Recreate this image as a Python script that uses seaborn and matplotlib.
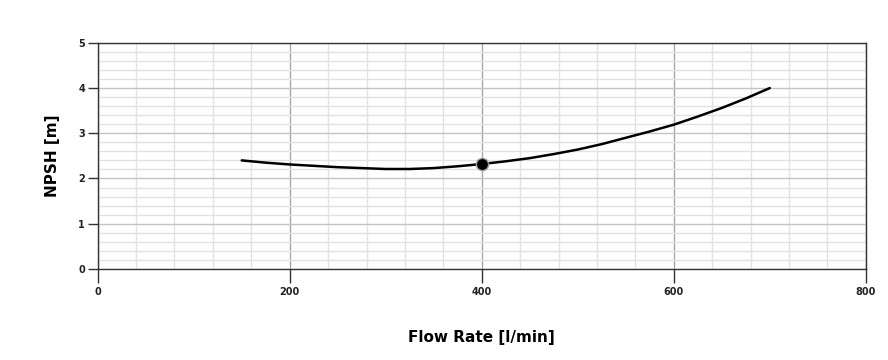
"""
NPSH curve of the pump vs. flow rate
"""

import matplotlib
matplotlib.use('Agg')
import matplotlib.pyplot as plt
from matplotlib.ticker import MultipleLocator
import pandas as pd
import seaborn as sns

# curve
flow_rate = [150, 175, 200, 225, 250, 275, 300, 325, 350, 375, 400, 425,
             450, 475, 500, 525, 550, 575, 600, 625, 650, 675, 700]
npsh = [2.40, 2.35, 2.31, 2.28, 2.25, 2.23, 2.21, 2.21, 2.23, 2.27, 2.32, 2.38,
        2.45, 2.54, 2.64, 2.76, 2.90, 3.04, 3.19, 3.37, 3.56, 3.77, 4.00]

# operating point
op_flow = [400]
op_npsh = [2.32]

curve = pd.DataFrame({'Flow Rate': flow_rate, 'NPSH': npsh})
point = pd.DataFrame({'Flow Rate': op_flow, 'NPSH': op_npsh})

sns.set_style('white')
plt.rcParams['font.family'] = ['DejaVu Sans']

fig, ax = plt.subplots(figsize=(8.88, 3.6), dpi=100)
fig.subplots_adjust(left=0.110, right=0.975, bottom=0.253, top=0.881)

# grid: light minor lines, darker majors
ax.xaxis.set_major_locator(MultipleLocator(200))
ax.xaxis.set_minor_locator(MultipleLocator(40))
ax.yaxis.set_major_locator(MultipleLocator(1))
ax.yaxis.set_minor_locator(MultipleLocator(0.2))
ax.grid(which='minor', color='#e2e2e2', linewidth=1.0)
ax.grid(which='major', axis='x', color='#a8a8a8', linewidth=1.0)
ax.grid(which='major', axis='y', color='#c4c4c4', linewidth=1.0)
ax.set_axisbelow(True)

sns.lineplot(data=curve, x='Flow Rate', y='NPSH', ax=ax,
             color='black', linewidth=1.8, sort=True)
# shadow under the point
sns.scatterplot(data=point, x='Flow Rate', y='NPSH', ax=ax,
                color='#9a9a9a', s=95, linewidth=0, zorder=3)
sns.scatterplot(data=point, x='Flow Rate', y='NPSH', ax=ax,
                color='black', s=60, linewidth=0, zorder=4)

ax.set_xlim(0, 800)
ax.set_ylim(0, 5)

for side in ['left', 'bottom', 'top', 'right']:
    ax.spines[side].set_visible(True)
    ax.spines[side].set_color('#333333')
    ax.spines[side].set_linewidth(1.0)

ax.tick_params(axis='both', which='major', labelsize=7, colors='#222222',
               direction='out', bottom=True, left=True)
ax.tick_params(axis='x', which='major', length=10, width=1, pad=3,
               color='#333333')
ax.tick_params(axis='y', which='major', length=7, width=1, pad=2,
               color='#333333')
ax.tick_params(which='minor', length=0)
for lbl in ax.get_xticklabels() + ax.get_yticklabels():
    lbl.set_fontweight('bold')

ax.set_xlabel('Flow Rate [l/min]', fontsize=11, fontweight='bold',
              labelpad=24, color='black')
ax.set_ylabel('NPSH [m]', fontsize=11, fontweight='bold',
              labelpad=13, color='black')

plt.savefig('out.png', dpi=100)
plt.close()
